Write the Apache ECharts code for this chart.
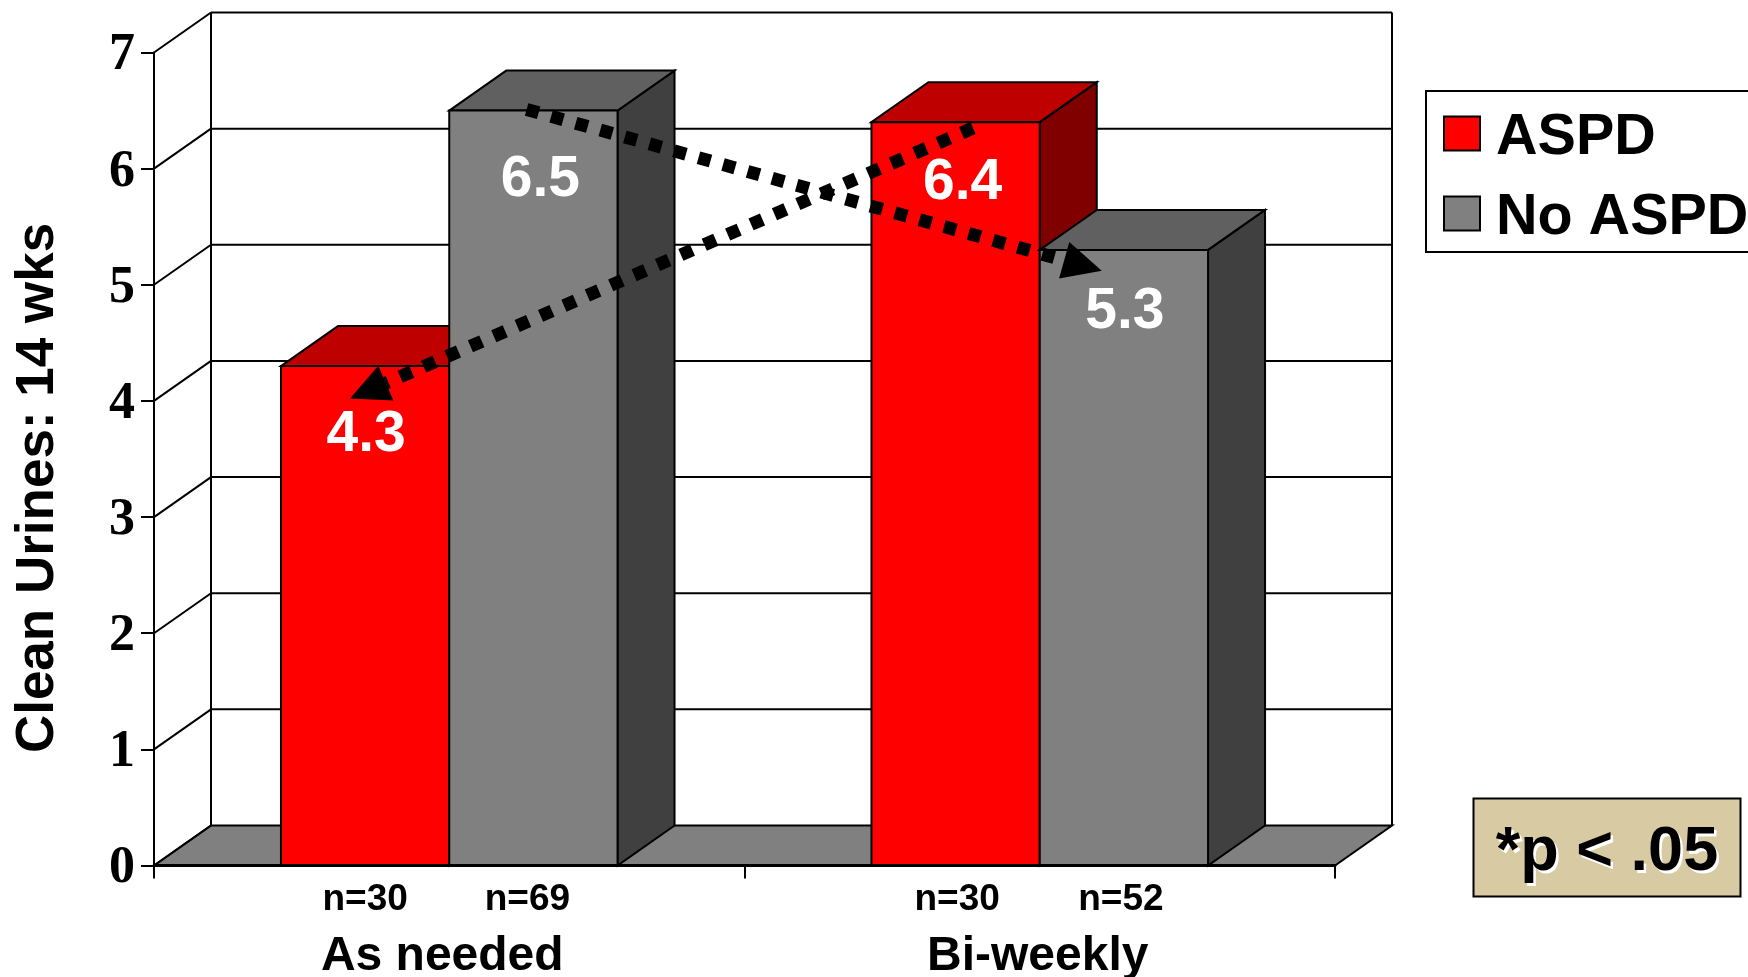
<!DOCTYPE html>
<html>
<head>
<meta charset="utf-8">
<style>html,body{margin:0;padding:0;background:#fff}#c{width:1748px;height:977px}</style>
<script src="https://cdn.jsdelivr.net/npm/echarts@6/dist/echarts.min.js"></script>
</head>
<body>
<div id="c"></div>
<script>
// ---- data ----
const categories = ['As needed', 'Bi-weekly'];
const seriesNames = ['ASPD', 'No ASPD'];
const aspdValues = [4.3, 6.4];
const noAspdValues = [6.5, 5.3];
const aspdCounts = ['n=30', 'n=30'];
const noAspdCounts = ['n=69', 'n=52'];
const yTicks = [0, 1, 2, 3, 4, 5, 6, 7];
const yAxisTitle = 'Clean Urines: 14 wks';
const noteText = '*p < .05';
// arrow endpoints in axis units: [category position, value]
const arrowOne = [[0.131, 6.51], [1.105, 5.12]];
const arrowTwo = [[0.887, 6.35], [-0.168, 4.02]];

// ---- styling ----
const SANS = '"Liberation Sans", Arial, sans-serif';
const SERIF = '"Liberation Serif", "Times New Roman", serif';
const DX = 57, DY = 40;
const BAR_FRACTION = 0.285;
const palette = [
  { front: '#ff0000', top: '#bf0000', side: '#800000' },
  { front: '#808080', top: '#606060', side: '#404040' }
];
const labelNudge = [
  [[1, 69.5], [7, 61.5]],
  [[7, 69.5], [1, 62]]
];
const countNudge = [
  [0, 1.5],
  [-6, -3]
];
const edge = { stroke: '#000', lineWidth: 2, lineJoin: 'miter' };

function wallRender(params, api) {
  const v = api.value(0);
  const cs = params.coordSys;
  const y = api.coord([0, v])[1];
  const left = cs.x, right = cs.x + cs.width;
  const children = [];
  if (v === 0) {
    children.push({
      type: 'polygon',
      shape: { points: [[left, y], [left + DX, y - DY], [right + DX, y - DY], [right, y]] },
      style: { fill: '#808080', stroke: '#000', lineWidth: 2 }
    });
  } else {
    children.push({
      type: 'line',
      shape: { x1: left + DX, y1: y - DY, x2: right + DX, y2: y - DY },
      style: { stroke: '#000', lineWidth: 2 }
    });
  }
  children.push({
    type: 'line',
    shape: { x1: left, y1: y, x2: left + DX, y2: y - DY },
    style: { stroke: '#000', lineWidth: 2 }
  });
  if (v === 7) {
    const yb = api.coord([0, 0])[1] - DY;
    children.push({ type: 'line', shape: { x1: left + DX, y1: y - DY, x2: left + DX, y2: yb }, style: { stroke: '#000', lineWidth: 2 } });
    children.push({ type: 'line', shape: { x1: right + DX, y1: y - DY, x2: right + DX, y2: yb }, style: { stroke: '#000', lineWidth: 2 } });
  }
  return { type: 'group', children };
}

function barRender(seriesIdx, counts) {
  return function (params, api) {
    const c = api.value(0), v = api.value(1);
    const band = api.size([1, 0])[0];
    const w = band * BAR_FRACTION;
    const center = api.coord([c, 0])[0];
    const x0 = center + (seriesIdx === 0 ? -w : 0);
    const x1 = x0 + w;
    const y0 = api.coord([c, 0])[1];
    const yt = api.coord([c, v])[1];
    const col = palette[seriesIdx];
    const nudge = labelNudge[seriesIdx][c];
    return {
      type: 'group',
      children: [
        { type: 'polygon', shape: { points: [[x1, yt], [x1 + DX, yt - DY], [x1 + DX, y0 - DY], [x1, y0]] }, style: Object.assign({ fill: col.side }, edge) },
        { type: 'polygon', shape: { points: [[x0, yt], [x0 + DX, yt - DY], [x1 + DX, yt - DY], [x1, yt]] }, style: Object.assign({ fill: col.top }, edge) },
        { type: 'rect', shape: { x: x0, y: yt, width: w, height: y0 - yt }, style: Object.assign({ fill: col.front }, edge) },
        { type: 'text', z2: 5, style: { text: v.toFixed(1), x: (x0 + x1) / 2 + nudge[0], y: yt + nudge[1], align: 'center', verticalAlign: 'middle', fill: '#fff', font: 'bold 57px ' + SANS } },
        { type: 'text', z2: 5, style: { text: counts[c], x: (x0 + x1) / 2 + countNudge[seriesIdx][c], y: y0 + 34, align: 'center', verticalAlign: 'middle', fill: '#000', font: 'bold 37px ' + SANS } }
      ]
    };
  };
}

function arrowRender(arrows) {
  return function (params, api) {
    const a = arrows[api.value(0)];
    // a category axis rounds fractional positions, so place x from the first band centre and the band size
    const origin = api.coord([0, 0])[0], band = api.size([1, 0])[0];
    const p = [origin + a[0][0] * band, api.coord([0, a[0][1]])[1]];
    const t = [origin + a[1][0] * band, api.coord([0, a[1][1]])[1]];
    const dx = t[0] - p[0], dy = t[1] - p[1];
    const len = Math.hypot(dx, dy), ux = dx / len, uy = dy / len;
    const bx = t[0] - ux * 39, by = t[1] - uy * 39;
    return {
      type: 'group',
      children: [
        { type: 'line', shape: { x1: p[0], y1: p[1], x2: bx, y2: by }, style: { stroke: '#000', lineWidth: 13, lineDash: [12.5, 13], lineCap: 'butt' } },
        { type: 'polygon', shape: { points: [t, [bx - uy * 19, by + ux * 19], [bx + uy * 19, by - ux * 19]] }, style: { fill: '#000' } }
      ]
    };
  };
}

const chart = echarts.init(document.getElementById('c'), null, { renderer: 'canvas' });
chart.setOption({
  animation: false,
  backgroundColor: '#fff',
  grid: { left: 154, top: 52.5, right: 1748 - 1335, bottom: 977 - 865.5, containLabel: false, outerBoundsMode: 'none' },
  legend: {
    orient: 'vertical',
    left: 1426,
    top: 91,
    padding: [9, 70, 5, 17],
    backgroundColor: '#fff',
    borderColor: '#000',
    borderWidth: 2,
    borderRadius: 0,
    itemWidth: 36,
    itemHeight: 34,
    itemGap: 13,
    selectedMode: false,
    formatter: '{t|{name}}',
    textStyle: {
      color: '#000', fontFamily: SANS, fontWeight: 'bold', fontSize: 57.5,
      rich: { t: { color: '#000', fontFamily: SANS, fontWeight: 'bold', fontSize: 57.5, lineHeight: 34, padding: [9, 0, 0, 11] } }
    },
    data: seriesNames.map((n, i) => ({
      name: n,
      icon: 'rect',
      itemStyle: { color: palette[i].front, borderColor: '#000', borderWidth: 2 }
    }))
  },
  xAxis: {
    type: 'category',
    data: categories,
    z: 10,
    axisLine: { show: true, lineStyle: { color: '#000', width: 3 } },
    axisTick: { show: true, length: 13, alignWithLabel: false, lineStyle: { color: '#000', width: 2 } },
    axisLabel: {
      margin: 67,
      color: '#000',
      fontFamily: SANS,
      fontWeight: 'bold',
      fontSize: 48,
      formatter: (v, i) => `{c${i}|${v}}`,
      rich: {
        c0: { color: '#000', fontFamily: SANS, fontWeight: 'bold', fontSize: 48, padding: [0, 14, 0, 0] },
        c1: { color: '#000', fontFamily: SANS, fontWeight: 'bold', fontSize: 48, padding: [0, 4, 0, 0] }
      }
    }
  },
  yAxis: {
    type: 'value',
    min: 0,
    max: 7,
    interval: 1,
    z: 10,
    name: yAxisTitle,
    nameLocation: 'middle',
    nameGap: 89,
    nameMoveOverlap: false,
    nameTextStyle: { color: '#000', fontFamily: SANS, fontWeight: 'bold', fontSize: 53, padding: [0, 58, 0, 0] },
    axisLine: { show: true, lineStyle: { color: '#000', width: 2 } },
    axisTick: { show: true, length: 13, lineStyle: { color: '#000', width: 2 } },
    axisLabel: {
      margin: 19,
      color: '#000',
      fontFamily: SERIF,
      fontWeight: 'bold',
      fontSize: 52,
      formatter: '{d|{value}}',
      rich: { d: { color: '#000', fontFamily: SERIF, fontWeight: 'bold', fontSize: 52, padding: [7, 0, 0, 0] } }
    },
    splitLine: { show: false }
  },
  series: [
    { type: 'custom', name: 'walls', z: 1, silent: true, renderItem: wallRender, data: yTicks.map(t => [t]), encode: { y: 0 } },
    {
      type: 'custom', name: seriesNames[0], z: 3, renderItem: barRender(0, aspdCounts),
      itemStyle: { color: palette[0].front },
      data: aspdValues.map((v, i) => [i, v]), encode: { x: 0, y: 1 }
    },
    {
      type: 'custom', name: seriesNames[1], z: 4, renderItem: barRender(1, noAspdCounts),
      itemStyle: { color: palette[1].front },
      data: noAspdValues.map((v, i) => [i, v]), encode: { x: 0, y: 1 }
    },
    { type: 'custom', name: 'arrows', z: 20, silent: true, renderItem: arrowRender([arrowOne, arrowTwo]), data: [[0], [1]], encode: { y: 0 } }
  ],
  graphic: [
    { type: 'rect', z: 30, shape: { x: 1473.5, y: 798.5, width: 267, height: 98 }, style: { fill: '#d8cba3', stroke: '#000', lineWidth: 2 } },
    { type: 'text', z: 31, style: { text: noteText, x: 1607, y: 853, align: 'center', verticalAlign: 'middle', fill: '#000', font: 'bold 63px ' + SANS, textShadowColor: '#fff', textShadowBlur: 0.1, textShadowOffsetX: 2.5, textShadowOffsetY: 2.5 } }
  ]
});
</script>
</body>
</html>
